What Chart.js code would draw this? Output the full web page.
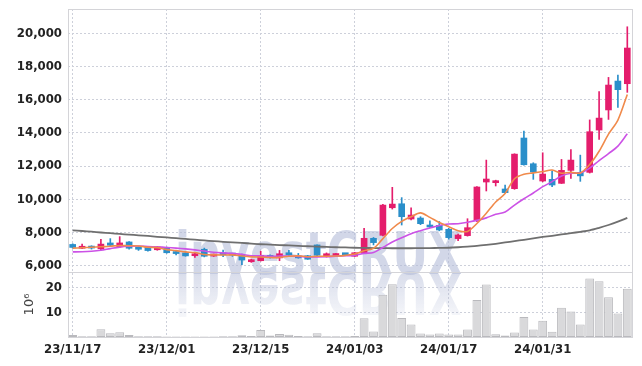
<!DOCTYPE html>
<html>
<head>
<meta charset="utf-8">
<script src="https://cdn.jsdelivr.net/npm/chart.js@4/dist/chart.umd.min.js"></script>
<style>
  html, body { margin: 0; padding: 0; background: #fff; }
  #wrap { width: 642px; height: 366px; }
</style>
</head>
<body>
<div id="wrap"><canvas id="chart" width="642" height="366"></canvas></div>
<script>
// trading days, 23/11/17 .. 24/02/15
var dates = ['23/11/17','23/11/20','23/11/21','23/11/22','23/11/23','23/11/24','23/11/27','23/11/28','23/11/29','23/11/30',
  '23/12/01','23/12/04','23/12/05','23/12/06','23/12/07','23/12/08','23/12/11','23/12/12','23/12/13','23/12/14',
  '23/12/15','23/12/18','23/12/19','23/12/20','23/12/21','23/12/22','23/12/26','23/12/27','23/12/28','24/01/02',
  '24/01/03','24/01/04','24/01/05','24/01/08','24/01/09','24/01/10','24/01/11','24/01/12','24/01/15','24/01/16',
  '24/01/17','24/01/18','24/01/19','24/01/22','24/01/23','24/01/24','24/01/25','24/01/26','24/01/29','24/01/30',
  '24/01/31','24/02/01','24/02/02','24/02/05','24/02/06','24/02/07','24/02/08','24/02/13','24/02/14','24/02/15'];

var opens = [7280,7050,7170,7020,7370,7140,7430,7050,7110,6960,
  7080,6830,6770,6600,6990,6580,6700,6650,6640,6240,
  6300,6620,6470,6780,6590,6600,7250,6540,6610,6700,
  6570,6790,7650,7830,9490,9730,8810,8870,8450,8430,
  8190,7630,7810,8710,11040,11000,10620,10640,13690,12140,
  11100,11200,10960,11740,11620,11620,14170,15380,17120,16960];
var highs = [7320,7300,7200,7590,7630,7750,7450,7150,7130,7160,
  7120,6880,6790,6760,7060,6700,6940,6700,6700,6400,
  6870,6650,6920,6930,6740,6620,7260,6770,6730,6720,
  6800,8250,7700,9700,10720,10100,9490,8950,8700,8660,
  8250,7900,8830,10760,12360,11150,10860,12740,14110,12200,
  12800,11700,12400,13000,12660,14780,16480,17340,17480,20390];
var lows = [7050,7020,7000,6950,7200,7100,7000,6920,6880,6930,
  6750,6650,6570,6500,6530,6560,6540,6560,6060,6200,
  6280,6460,6300,6620,6450,6380,6600,6520,6580,6640,
  6550,6750,7250,7800,9410,8450,8750,8470,8300,8100,
  7600,7500,7780,8650,10500,10800,10380,10600,12050,11200,
  11050,10760,10950,11260,11080,11580,13610,14810,15530,16440];
var closes = [7100,7140,7060,7300,7230,7370,7050,6990,6910,7140,
  6780,6730,6590,6700,6570,6680,6650,6640,6340,6360,
  6620,6480,6720,6650,6470,6390,6630,6720,6700,6660,
  6780,7650,7390,9650,9710,8950,9050,8530,8330,8150,
  7690,7850,8290,10740,11220,11120,10400,12720,12080,11640,
  11520,10860,11740,12360,11410,14070,14890,16880,16600,19110];

var ma5 = [7060,7080,7110,7140,7170,7220,7200,7190,7110,7090,
  6970,6910,6830,6790,6670,6650,6640,6650,6580,6530,
  6520,6490,6500,6570,6590,6540,6570,6570,6580,6620,
  6700,6900,7040,7630,8240,8670,8950,9180,8910,8600,
  8350,8110,8060,8540,9160,9840,10350,11240,11510,11590,
  11670,11760,11570,11620,11580,12090,12890,13920,14770,16310];
var ma10 = [6830,6840,6870,6930,7030,7120,7170,7190,7160,7130,
  7100,7060,7010,6950,6880,6810,6770,6740,6680,6600,
  6590,6560,6580,6570,6560,6530,6530,6540,6570,6600,
  6620,6740,6800,7100,7430,7680,7930,8110,8270,8420,
  8510,8530,8620,8730,8880,9100,9230,9650,10030,10380,
  10760,11060,11400,11570,11590,11880,12330,12750,13200,13940];
var maLong = [8130,8090,8050,8000,7960,7910,7870,7830,7790,7740,
  7700,7660,7610,7570,7520,7480,7440,7400,7370,7330,
  7290,7270,7240,7220,7190,7170,7150,7130,7110,7100,
  7080,7070,7060,7060,7050,7050,7050,7060,7060,7070,
  7080,7110,7150,7190,7250,7320,7400,7480,7560,7650,
  7730,7800,7880,7960,8040,8130,8280,8450,8650,8880];

// volume in millions
var volumes = [0.8,0.3,0.3,3.1,1.5,1.9,0.8,0.3,0.3,0.3,
  0.2,0.2,0.2,0.2,0.2,0.2,0.3,0.3,0.7,0.4,
  2.8,0.6,1.2,0.9,0.4,0.3,1.5,0.3,0.3,0.3,
  0.4,7.6,2.2,17.0,21.3,7.7,5.0,1.4,1.0,1.4,
  1.0,1.0,3.0,14.9,21.2,1.1,0.6,1.8,8.1,3.0,
  6.6,2.1,11.8,10.3,5.0,23.6,22.5,16.0,9.5,19.4];

var priceTicks = [6000,8000,10000,12000,14000,16000,18000,20000];
var volTicks = [10,20];

var UP = '#e41d6c', DOWN = '#2a8fca';
var tickFont = { family: "'DejaVu Sans Condensed','Liberation Sans Narrow',sans-serif", size: 13, weight: 'bold' };
var gridCol = '#cdd0da';

function candleColor(ctx) {
  var i = ctx.dataIndex;
  return closes[i] >= opens[i] ? UP : DOWN;
}

// y axes: fixed width, no extra room for the edge labels
function fitY(s) {
  s.width = 68;
  s.paddingTop = 0;
  s.paddingBottom = 0;
}

var frame = {
  id: 'frame',
  beforeDatasetsDraw: function(chart) {
    var c = chart.ctx, sep = chart.scales.y.bottom;
    c.save();
    c.font = "bold 58px 'DejaVu Sans', sans-serif";
    var w = c.measureText('investCRUX').width;
    c.translate(175, sep + 2);
    c.scale(287 / w, 1);
    c.fillStyle = 'rgba(180,188,216,0.6)';
    c.fillText('investCRUX', 0, 0);
    // reflection
    c.scale(1, -1);
    var g = c.createLinearGradient(0, 0, 0, -48);
    g.addColorStop(0, 'rgba(180,188,216,0.5)');
    g.addColorStop(1, 'rgba(180,188,216,0.08)');
    c.fillStyle = g;
    c.fillText('investCRUX', 0, 2);
    c.restore();
  },
  afterDraw: function(chart) {
    var c = chart.ctx, a = chart.chartArea, sep = chart.scales.y.bottom;
    c.save();
    c.strokeStyle = '#d4d4d8';
    c.lineWidth = 1;
    c.strokeRect(Math.round(a.left) + 0.5, Math.round(a.top) + 0.5, Math.round(a.right - a.left), Math.round(a.bottom - a.top));
    c.beginPath();
    c.moveTo(a.left, Math.round(sep) + 0.5);
    c.lineTo(a.right, Math.round(sep) + 0.5);
    c.stroke();
    c.restore();
  }
};

var chart = new Chart('chart', {
  type: 'bar',
  data: {
    labels: dates,
    datasets: [
      { type: 'line', label: 'MA5', data: ma5, yAxisID: 'y', borderColor: '#f08a4b', borderWidth: 1.6, pointRadius: 0, tension: 0.3, order: 0 },
      { type: 'line', label: 'MA10', data: ma10, yAxisID: 'y', borderColor: '#cc52e6', borderWidth: 1.6, pointRadius: 0, tension: 0.3, order: 0 },
      { type: 'line', label: 'MA long', data: maLong, yAxisID: 'y', borderColor: '#6f6f6f', borderWidth: 1.8, pointRadius: 0, tension: 0.3, order: 0 },
      { label: 'wick', data: lows.map(function(l, i) { return [l, highs[i]]; }), yAxisID: 'y',
        backgroundColor: candleColor, barThickness: 1, grouped: false, order: 2 },
      { label: 'body', data: opens.map(function(o, i) { return [o, closes[i]]; }), yAxisID: 'y',
        backgroundColor: candleColor, borderWidth: 0, barThickness: 6, minBarLength: 2, grouped: false, order: 1 },
      { label: 'volume', data: volumes, yAxisID: 'yv', backgroundColor: '#d9d9db', borderColor: '#b9b9bd',
        borderWidth: 1, borderSkipped: false, barPercentage: 0.94, categoryPercentage: 1, grouped: false, order: 3 }
    ]
  },
  options: {
    responsive: false,
    animation: false,
    layout: { padding: { top: 9, right: 10, left: 0, bottom: 0 } },
    plugins: { legend: { display: false }, tooltip: { enabled: false } },
    scales: {
      x: {
        offset: true,
        grid: { offset: false, drawTicks: false, color: gridCol },
        border: { display: false, dash: [2, 2] },
        afterBuildTicks: function(s) { s.ticks = s.ticks.filter(function(t) { return t.value % 10 === 0; }); },
        afterFit: function(s) { s.height = 29; s.paddingLeft = 0; s.paddingRight = 0; },
        ticks: { autoSkip: false, maxRotation: 0, padding: 5, color: '#222', font: tickFont,
          callback: function(v) { return dates[v]; } }
      },
      y: {
        stack: 'main', stackWeight: 263, weight: 1,
        min: 5620, max: 21460,
        afterBuildTicks: function(s) { s.ticks = priceTicks.map(function(v) { return { value: v }; }); },
        afterFit: fitY,
        grid: { drawTicks: false, color: gridCol },
        border: { display: false, dash: [2, 2] },
        ticks: { padding: 6, color: '#222', font: tickFont,
          callback: function(v) { return v.toLocaleString('en-US'); } }
      },
      yv: {
        stack: 'main', stackWeight: 65, weight: 0,
        min: 0, max: 26.2,
        afterBuildTicks: function(s) { s.ticks = volTicks.map(function(v) { return { value: v }; }); },
        afterFit: fitY,
        grid: { drawTicks: false, color: gridCol },
        border: { display: false, dash: [2, 2] },
        title: { display: true, text: '10⁶', color: '#444', padding: { top: 22, bottom: 0 },
          font: { family: "'DejaVu Sans', sans-serif", size: 13 } },
        ticks: { padding: 6, color: '#222', font: tickFont }
      }
    }
  },
  plugins: [frame]
});
</script>
</body>
</html>
